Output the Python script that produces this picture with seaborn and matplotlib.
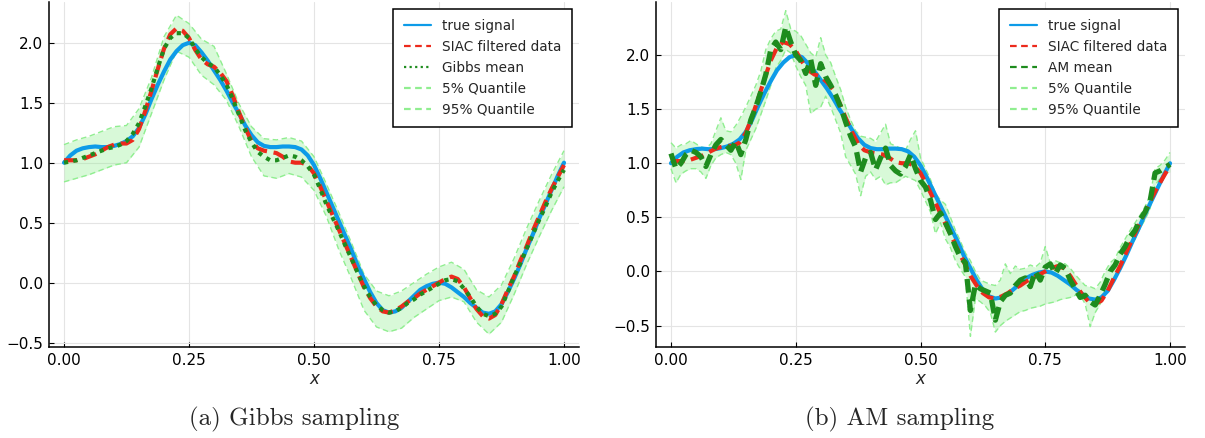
import numpy as np
import matplotlib
matplotlib.use("Agg")
import matplotlib.pyplot as plt
import seaborn as sns
from matplotlib.lines import Line2D

# ---------------------------------------------------------------------------
# Smooth curves, sampled on a 0.0125 grid
# ---------------------------------------------------------------------------
x_fine = np.linspace(0.0, 1.0, 81)

true_signal = [1.00, 1.06, 1.10, 1.12, 1.13, 1.135, 1.13, 1.13, 1.14, 1.155,
               1.18, 1.22, 1.29, 1.40, 1.53, 1.65, 1.76, 1.86, 1.93, 1.98,
               2.00, 1.98, 1.92, 1.85, 1.77, 1.69, 1.60, 1.50, 1.41, 1.31,
               1.23, 1.17, 1.14, 1.13, 1.13, 1.135, 1.135, 1.13, 1.11, 1.06,
               0.98, 0.87, 0.75, 0.63, 0.51, 0.39, 0.27, 0.14, 0.03, -0.08,
               -0.17, -0.23, -0.25, -0.24, -0.21, -0.16, -0.11, -0.06, -0.03, -0.01,
               0.00, -0.01, -0.04, -0.08, -0.12, -0.17, -0.21, -0.25, -0.26, -0.24,
               -0.18, -0.08, 0.03, 0.15, 0.28, 0.40, 0.53, 0.65, 0.77, 0.89,
               1.00]

siac_filtered = [1.02, 1.02, 1.02, 1.03, 1.05, 1.07, 1.10, 1.13, 1.15, 1.16,
                 1.16, 1.19, 1.28, 1.43, 1.60, 1.78, 1.95, 2.07, 2.12, 2.10,
                 2.04, 1.94, 1.86, 1.82, 1.80, 1.75, 1.68, 1.56, 1.42, 1.29,
                 1.18, 1.12, 1.10, 1.09, 1.08, 1.05, 1.01, 1.00, 1.00, 0.98,
                 0.91, 0.80, 0.68, 0.56, 0.44, 0.32, 0.20, 0.08, -0.04, -0.13,
                 -0.20, -0.24, -0.25, -0.23, -0.20, -0.16, -0.13, -0.09, -0.06, -0.03,
                 0.00, 0.03, 0.05, 0.03, -0.04, -0.13, -0.22, -0.28, -0.30, -0.27,
                 -0.18, -0.06, 0.05, 0.18, 0.30, 0.43, 0.55, 0.67, 0.78, 0.88,
                 0.98]

gibbs_mean = [1.00, 1.01, 1.02, 1.04, 1.06, 1.08, 1.10, 1.12, 1.13, 1.15,
              1.18, 1.24, 1.33, 1.47, 1.62, 1.79, 1.95, 2.04, 2.08, 2.08,
              2.04, 1.95, 1.88, 1.83, 1.80, 1.73, 1.65, 1.53, 1.40, 1.27,
              1.17, 1.09, 1.05, 1.02, 1.02, 1.04, 1.06, 1.05, 1.02, 0.97,
              0.90, 0.78, 0.65, 0.54, 0.43, 0.31, 0.20, 0.08, -0.03, -0.12,
              -0.19, -0.23, -0.25, -0.24, -0.21, -0.17, -0.14, -0.10, -0.07, -0.04,
              -0.01, 0.02, 0.03, 0.01, -0.05, -0.12, -0.20, -0.26, -0.28, -0.26,
              -0.20, -0.08, 0.05, 0.16, 0.28, 0.40, 0.52, 0.63, 0.75, 0.85,
              0.94]

# Gibbs credible band, sampled on a 0.025 grid
x_band = np.linspace(0.0, 1.0, 41)

gibbs_q05 = [0.84, 0.87, 0.90, 0.94, 0.98, 1.00, 1.13, 1.41, 1.69, 1.93,
             1.88, 1.73, 1.65, 1.52, 1.30, 1.05, 0.89, 0.87, 0.91, 0.88,
             0.77, 0.55, 0.27, 0.03, -0.23, -0.37, -0.41, -0.38, -0.29, -0.22,
             -0.15, -0.12, -0.16, -0.33, -0.43, -0.33, -0.10, 0.15, 0.38, 0.60,
             0.80]

gibbs_q95 = [1.15, 1.19, 1.22, 1.26, 1.30, 1.31, 1.45, 1.71, 2.05, 2.23,
             2.16, 2.03, 1.97, 1.74, 1.49, 1.30, 1.20, 1.19, 1.21, 1.18,
             1.05, 0.82, 0.58, 0.33, 0.07, -0.07, -0.11, -0.07, 0.00, 0.07,
             0.13, 0.17, 0.11, -0.06, -0.12, -0.02, 0.20, 0.45, 0.68, 0.90,
             1.10]

# ---------------------------------------------------------------------------
# Adaptive Metropolis chain summaries, sampled on a 0.01 grid
# ---------------------------------------------------------------------------
x_am = np.linspace(0.0, 1.0, 101)

am_mean = [1.09, 0.95, 1.00, 1.08, 1.12, 1.10, 1.06, 0.97, 1.08, 1.17,
           1.22, 1.17, 1.12, 1.20, 1.08, 1.22, 1.40, 1.52, 1.66, 1.82,
           2.05, 2.12, 2.05, 2.26, 2.12, 2.00, 1.95, 1.83, 1.96, 1.72,
           1.92, 1.80, 1.72, 1.63, 1.52, 1.38, 1.25, 1.15, 0.92, 1.05,
           1.10, 0.94, 1.05, 1.14, 0.98, 0.93, 0.90, 0.97, 1.08, 0.95,
           0.84, 0.78, 0.66, 0.48, 0.54, 0.45, 0.35, 0.23, 0.13, 0.08,
           -0.36, -0.12, -0.16, -0.18, -0.20, -0.45, -0.28, -0.22, -0.20, -0.13,
           -0.08, -0.06, -0.14, 0.00, -0.08, 0.04, 0.07, -0.02, 0.06, 0.03,
           -0.08, -0.16, -0.24, -0.22, -0.28, -0.31, -0.22, -0.12, 0.00, 0.06,
           0.16, 0.23, 0.32, 0.38, 0.48, 0.55, 0.65, 0.91, 0.93, 0.96,
           0.99]

am_q05 = [0.95, 0.82, 0.90, 0.93, 0.95, 0.95, 0.92, 0.86, 0.98, 1.05,
          1.08, 1.10, 1.08, 1.00, 0.85, 1.12, 1.22, 1.32, 1.45, 1.58,
          1.72, 1.88, 1.95, 2.05, 2.02, 1.90, 1.80, 1.72, 1.46, 1.50,
          1.52, 1.62, 1.52, 1.40, 1.28, 1.06, 0.98, 0.90, 0.70, 0.88,
          0.92, 0.85, 0.88, 0.80, 0.82, 0.82, 0.85, 0.88, 0.86, 0.84,
          0.75, 0.65, 0.55, 0.35, 0.45, 0.30, 0.22, 0.10, 0.02, -0.05,
          -0.60, -0.25, -0.28, -0.32, -0.38, -0.56, -0.50, -0.46, -0.43, -0.40,
          -0.37, -0.36, -0.34, -0.33, -0.32, -0.30, -0.29, -0.28, -0.26, -0.25,
          -0.24, -0.22, -0.22, -0.30, -0.51, -0.38, -0.30, -0.22, -0.12, -0.05,
          0.05, 0.12, 0.22, 0.30, 0.40, 0.48, 0.58, 0.80, 0.86, 0.90,
          0.92]

am_q95 = [1.19, 1.14, 1.17, 1.18, 1.21, 1.18, 1.15, 1.14, 1.18, 1.30,
          1.42, 1.30, 1.29, 1.35, 1.43, 1.52, 1.62, 1.72, 1.85, 2.05,
          2.15, 2.22, 2.24, 2.41, 2.24, 2.22, 2.18, 2.10, 2.02, 1.98,
          2.16, 2.00, 1.93, 1.80, 1.68, 1.52, 1.40, 1.30, 1.25, 1.24,
          1.23, 1.20, 1.28, 1.36, 1.18, 1.16, 1.14, 1.12, 1.22, 1.30,
          1.05, 0.95, 0.85, 0.72, 0.66, 0.62, 0.50, 0.38, 0.28, 0.17,
          0.10, 0.00, -0.08, -0.10, -0.12, -0.13, -0.08, 0.07, -0.02, 0.05,
          0.02, 0.03, 0.06, 0.04, 0.08, 0.23, 0.08, 0.10, 0.08, 0.07,
          0.03, -0.03, -0.08, -0.13, -0.14, -0.16, -0.10, 0.00, 0.08, 0.12,
          0.22, 0.30, 0.38, 0.45, 0.52, 0.60, 0.70, 0.95, 0.98, 1.03,
          1.10]

x_ticks = [0.00, 0.25, 0.50, 0.75, 1.00]
y_ticks = [-0.5, 0.0, 0.5, 1.0, 1.5, 2.0]
captions = ["(a) Gibbs sampling", "(b) AM sampling"]
mean_labels = ["Gibbs mean", "AM mean"]

# ---------------------------------------------------------------------------
sns.set_theme(style="white")
plt.rcParams["font.family"] = ["DejaVu Sans"]

BLUE = "#0d9be8"
RED = "#ec2a1c"
GREEN = "#1e8c1e"
LIGHT = "#90ee90"

W, H = 1205.0, 438.0
fig = plt.figure(figsize=(W / 100, H / 100), dpi=100)
ax_left = fig.add_axes([49 / W, 1 - 347 / H, 530 / W, 345 / H])
ax_right = fig.add_axes([656 / W, 1 - 347 / H, 529 / W, 345 / H])


def draw_panel(ax, xs_band, xs_mean, mean, q05, q95, dotted, mean_lw, label, ylim):
    ax.fill_between(xs_band, q05, q95, color=LIGHT, alpha=0.35, lw=0, zorder=1)
    for q in (q05, q95):
        sns.lineplot(x=xs_band, y=q, ax=ax, color=LIGHT, lw=1.0,
                     sort=False, estimator=None, zorder=2)
        ax.lines[-1].set_dashes((4, 2.5))
    sns.lineplot(x=x_fine, y=true_signal, ax=ax, color=BLUE, lw=3.0,
                 sort=False, estimator=None, zorder=3)
    sns.lineplot(x=x_fine, y=siac_filtered, ax=ax, color=RED, lw=3.0,
                 sort=False, estimator=None, zorder=4)
    ax.lines[-1].set_dashes((3.2, 1.6))
    sns.lineplot(x=xs_mean, y=mean, ax=ax, color=GREEN, lw=mean_lw,
                 sort=False, estimator=None, zorder=5)
    ax.lines[-1].set_dashes((1.0, 1.25) if dotted else (2.6, 1.3))

    ax.set_xlim(-0.03, 1.03)
    ax.set_ylim(*ylim)
    ax.set_xticks(x_ticks)
    ax.set_xticklabels([f"{t:.2f}" for t in x_ticks])
    ax.set_yticks(y_ticks)
    ax.set_yticklabels([f"{t:.1f}".replace("-", "\u2212") for t in y_ticks])
    ax.grid(True, color="#e4e4e4", lw=0.8)
    for side in ("top", "right"):
        ax.spines[side].set_visible(False)
    for side in ("left", "bottom"):
        ax.spines[side].set_color("black")
        ax.spines[side].set_linewidth(1.1)
    ax.tick_params(axis="both", direction="in", length=3.5, width=0.8,
                   colors="black", labelsize=11, pad=4, bottom=True, left=True)
    ax.set_xlabel("x", style="italic", fontsize=12, labelpad=2)
    ax.set_ylabel("")

    handles = [
        Line2D([], [], color=BLUE, lw=1.6),
        Line2D([], [], color=RED, lw=1.6, dashes=(3, 2)),
        Line2D([], [], color=GREEN, lw=1.6,
               dashes=(1, 1.5) if dotted else (3, 2)),
        Line2D([], [], color=LIGHT, lw=1.6, dashes=(3, 2)),
        Line2D([], [], color=LIGHT, lw=1.6, dashes=(3, 2)),
    ]
    labels = ["true signal", "SIAC filtered data", label,
              "5% Quantile", "95% Quantile"]
    leg = ax.legend(handles, labels, loc="upper right",
                    bbox_to_anchor=(1 - 7 / 530, 1 - 7 / 345),
                    borderaxespad=0, frameon=True, fancybox=False,
                    framealpha=1, edgecolor="black", fontsize=9.8,
                    handlelength=2.0, handletextpad=0.85, labelspacing=0.5,
                    borderpad=0.75)
    leg.get_frame().set_linewidth(1.1)
    leg.set_zorder(10)


draw_panel(ax_left, x_band, x_fine, gibbs_mean, gibbs_q05, gibbs_q95,
           True, 3.0, mean_labels[0], (-0.537, 2.34))
draw_panel(ax_right, x_am, x_am, am_mean, am_q05, am_q95,
           False, 3.8, mean_labels[1], (-0.698, 2.49))

fig.text(294 / W, 1 - 419 / H, captions[0], ha="center", va="center",
         family="cmr10", fontsize=18)
fig.text(900 / W, 1 - 419 / H, captions[1], ha="center", va="center",
         family="cmr10", fontsize=18)

fig.savefig("out.png", dpi=100)
